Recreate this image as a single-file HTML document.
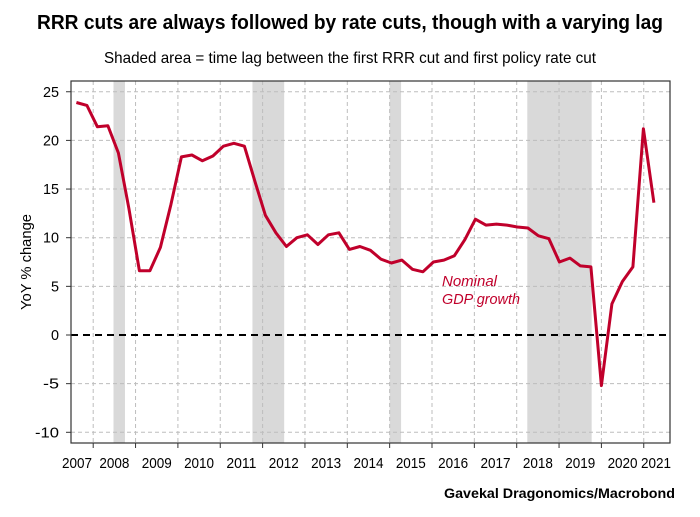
<!DOCTYPE html>
<html><head><meta charset="utf-8"><style>
html,body{margin:0;padding:0;background:#fff;}
svg{display:block;font-family:"Liberation Sans Narrow","Liberation Sans",sans-serif;}
</style></head><body>
<svg id="chart" width="700" height="517" viewBox="0 0 700 517">
<text x="350" y="29" text-anchor="middle" font-size="20" font-weight="bold" textLength="626" lengthAdjust="spacingAndGlyphs">RRR cuts are always followed by rate cuts, though with a varying lag</text>
<text x="350" y="63" text-anchor="middle" font-size="16" textLength="492" lengthAdjust="spacingAndGlyphs">Shaded area = time lag between the first RRR cut and first policy rate cut</text>
<g id="shades"></g><g id="grid"></g><g id="axes"></g><g id="series"></g>
<text x="31" y="262" transform="rotate(-90 31 262)" text-anchor="middle" font-size="15" textLength="96" lengthAdjust="spacingAndGlyphs">YoY % change</text>
<text x="442" y="286" font-size="15" font-style="italic" fill="#c0002b" textLength="55" lengthAdjust="spacingAndGlyphs">Nominal</text>
<text x="442" y="304" font-size="15" font-style="italic" fill="#c0002b" textLength="78" lengthAdjust="spacingAndGlyphs">GDP growth</text>
<text x="675" y="498" text-anchor="end" font-size="14" font-weight="bold" textLength="231" lengthAdjust="spacingAndGlyphs">Gavekal Dragonomics/Macrobond</text>
</svg>
<script>
const years=[2007,2008,2009,2010,2011,2012,2013,2014,2015,2016,2017,2018,2019,2020,2021];
const yTicks=[25,20,15,10,5,0,-5,-10];
const shadeStarts=[2008.48,2011.76,2015.0,2018.25];
const shadeEnds=[2008.75,2012.51,2015.27,2019.77];
const gdpStart=2007.6;
const gdpValues=[23.9,23.6,21.4,21.5,18.7,13.0,6.6,6.6,9.0,13.4,18.3,18.5,17.9,18.4,19.4,19.7,19.4,15.8,12.3,10.5,9.1,10.0,10.3,9.3,10.3,10.5,8.8,9.1,8.7,7.8,7.4,7.7,6.75,6.5,7.5,7.7,8.15,9.8,11.9,11.3,11.4,11.3,11.1,11.0,10.2,9.9,7.5,7.9,7.1,7.0,-5.2,3.2,5.5,7.0,21.2,13.6];
const L=71,R=670,T=81,B=443;
const x=v=>93.2+(v-2008)*42.0;
const y=v=>335-v*9.73;
const NS='http://www.w3.org/2000/svg';
function mk(p,t,a){const e=document.createElementNS(NS,t);for(const k in a)e.setAttribute(k,a[k]);p.appendChild(e);return e;}
const gS=document.getElementById('shades'),gG=document.getElementById('grid'),gA=document.getElementById('axes'),gL=document.getElementById('series');
const xt=v=>93.2+(v-2008)*42.35;
shadeStarts.forEach((s,i)=>{
 const r=mk(gS,'rect',{x:xt(s),y:T,width:xt(shadeEnds[i])-xt(s),height:B-T,fill:'#d9d9d9'});
 
 
});
yTicks.forEach(v=>{
 if(v!==0){const l=mk(gG,'line',{x1:L,x2:R,y1:y(v),y2:y(v),stroke:'#bdbdbd','stroke-width':1,'stroke-dasharray':'4,3'});
 
 }
 mk(gA,'line',{x1:L-5,x2:L,y1:y(v),y2:y(v),stroke:'#333','stroke-width':1});
 const t=mk(gA,'text',{x:L-12,y:y(v)+5,'text-anchor':'end','font-size':15,textLength:String(v).length*8,lengthAdjust:'spacingAndGlyphs'});
 t.textContent=v;
 
 
});
years.forEach(yr=>{
 if(yr>=2008&&yr<=2021){
  const l=mk(gG,'line',{x1:xt(yr),x2:xt(yr),y1:T,y2:B,stroke:'#bdbdbd','stroke-width':1,'stroke-dasharray':'4,3'});
  
  
  mk(gA,'line',{x1:xt(yr),x2:xt(yr),y1:B,y2:B+5,stroke:'#333','stroke-width':1});
 }
 let cx=xt(yr+0.5); if(yr===2007)cx=77; if(yr===2021)cx=656;
 const t=mk(gA,'text',{x:cx-15,y:468,'font-size':15,textLength:30,lengthAdjust:'spacingAndGlyphs'});
 t.textContent=yr;
 
 
});
const z=mk(gA,'line',{x1:L,x2:R,y1:y(0),y2:y(0),stroke:'#000','stroke-width':2,'stroke-dasharray':'7,5'});


const f=mk(gA,'rect',{x:L,y:T,width:R-L,height:B-T,fill:'none',stroke:'#333','stroke-width':1.2});


const pts=gdpValues.map((v,i)=>x(gdpStart+i*0.25).toFixed(1)+','+y(v).toFixed(1)).join(' ');
const pl=mk(gL,'polyline',{points:pts,fill:'none',stroke:'#c0002b','stroke-width':3,'stroke-linejoin':'round'});


</script>
</body></html>
